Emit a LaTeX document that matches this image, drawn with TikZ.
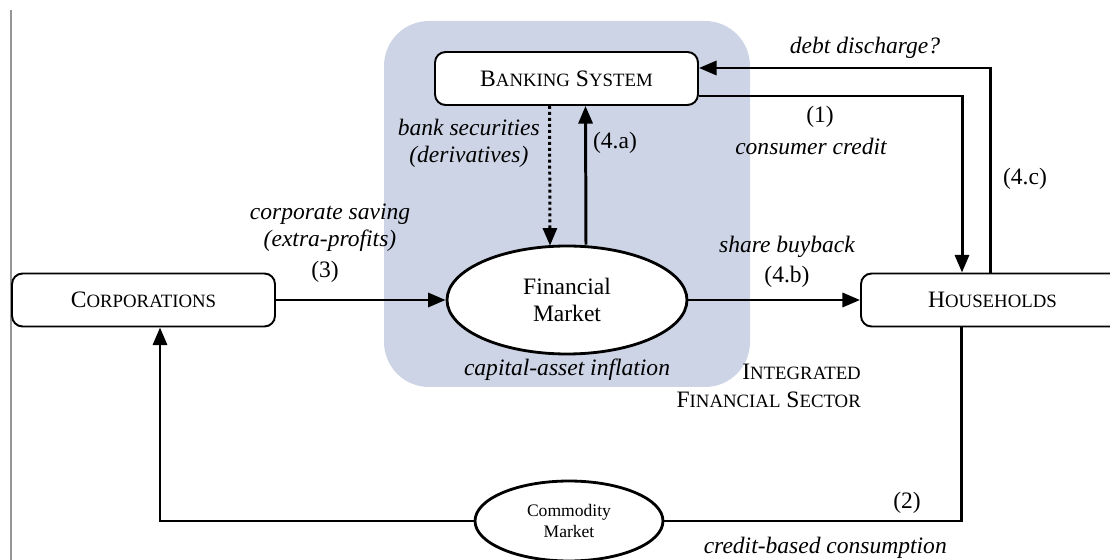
\documentclass[tikz,border=0pt]{standalone}
\usepackage{fontspec}
\setmainfont{Liberation Serif}
\usepackage{xcolor}
\definecolor{colorSector}{RGB}{205,212,230}
\definecolor{colorEdge}{RGB}{150,150,150}
\usetikzlibrary{arrows.meta, shapes.geometric, positioning, calc}
\tikzset{
  agent/.style={draw, rounded corners=6pt, line width=1.1pt, fill=white,
    minimum width=5.26cm, minimum height=1.06cm, inner sep=0pt},
  market/.style={draw, ellipse, line width=1.6pt, fill=white, align=center, inner sep=0pt},
  flow/.style={-{Triangle[length=10pt,width=8pt]}, line width=1.7pt},
  lbl/.style={font=\fontsize{13.4}{15.5}\selectfont\itshape, align=center},
}
\newcommand{\fakesc}[2]{#1{\fontsize{10.7}{12}\selectfont #2}}

\begin{document}
\begin{tikzpicture}[x=0.02cm, y=-0.02cm, every node/.style={font=\fontsize{13.4}{15.5}\selectfont}]
\useasboundingbox (0,0) rectangle (1110,560);
% integrated financial sector
\fill[colorSector, rounded corners=0.9cm] (384,21) rectangle (750,387);
\draw[colorEdge, line width=0.6pt] (11,10) -- (11,560);

\node[agent] (bank) at (566.5,78.5) {\fakesc{B}{ANKING} \fakesc{S}{YSTEM}};
\node[agent] (corp) at (143.5,300) {\fakesc{C}{ORPORATIONS}};
\node[agent] (house) at (992.5,300) {\fakesc{H}{OUSEHOLDS}};
\node[market, minimum width=4.8cm, minimum height=2.16cm] (finmkt) at (567,300) {Financial\\Market};
\node[market, minimum width=3.76cm, minimum height=1.6cm, font=\fontsize{10}{12}\selectfont] (commod) at (569,521) {Commodity\\Market};

% flows
\draw[flow] (corp.east) -- (finmkt.west);
\draw[flow] (finmkt.east) -- (house.west);
\draw[flow] ($(finmkt.north)+(19,0)$) -- ($(bank.south)+(19,0)$);
\draw[flow, dash pattern=on 1.7pt off 1.7pt] ($(bank.south)+(-17,0)$) -- ($(finmkt.north)+(-17,1)$);
\draw[flow] ($(bank.east)+(0,17.5)$) -| ($(house.north)+(-30.5,0)$);
\draw[flow] ($(house.north)+(-2.5,0)$) |- ($(bank.east)+(0,-10.5)$);
\draw[line width=1.7pt] ($(house.south)+(-31.5,0)$) |- (commod.east);
\draw[flow] (commod.west) -| ($(corp.south)+(16.5,0)$);

% labels
\node[lbl] (saving) at (330,228) {corporate saving\\(extra-profits)};
\node (n3) at (325,272) {(3)};
\node[lbl, anchor=east] (secur) at (546,143) {bank securities\\(derivatives)};
\node (n4a) at (615,143) {(4.a)};
\node (n1) at (820,117) {(1)};
\node[lbl] (credit) at (811,146) {consumer credit};
\node[lbl] (debt) at (865,48) {debt discharge?};
\node (n4c) at (1025,179) {(4.c)};
\node[lbl] (buyback) at (787,247) {share buyback};
\node (n4b) at (787,277) {(4.b)};
\node[lbl] (inflation) at (567,370) {capital-asset inflation};
\node[anchor=east, align=right] (sector) at (867,386) {\fakesc{I}{NTEGRATED}\\\fakesc{F}{INANCIAL} \fakesc{S}{ECTOR}};
\node (n2) at (907,503) {(2)};
\node[lbl, anchor=east] (consum) at (953,548) {credit-based consumption};
\end{tikzpicture}
\end{document}
